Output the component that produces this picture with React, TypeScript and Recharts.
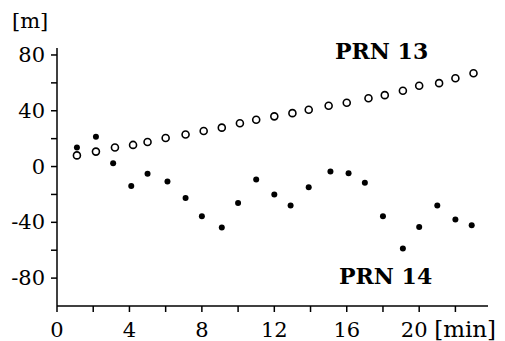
import React from "react";
import { ScatterChart, Scatter, XAxis, YAxis } from "recharts";

// ranges [m] of two satellites over time [min]
const prn13Minutes = [1.1, 2.15, 3.2, 4.2, 5.0, 6.0, 7.1, 8.1, 9.1, 10.1, 11.0, 12.0, 13.0, 13.9, 15.0, 16.0, 17.2, 18.1, 19.1, 20.0, 21.1, 22.0, 23.0];
const prn13Range = [8, 10.7, 13.6, 15.5, 17.6, 20.5, 23, 25.5, 27.9, 31, 33.6, 36, 38.3, 40.7, 43.6, 45.7, 49, 51.2, 54.3, 57.9, 59.8, 63.3, 66.9];
const prn14Minutes = [1.1, 2.15, 3.1, 4.1, 5.0, 6.1, 7.1, 8.0, 9.1, 10.0, 11.0, 12.0, 12.9, 13.9, 15.1, 16.1, 17.0, 18.0, 19.1, 20.0, 21.0, 22.0, 22.9];
const prn14Range = [13.6, 21.4, 2.4, -14, -5.2, -10.7, -22.6, -35.7, -43.8, -26.2, -9.3, -20, -27.9, -14.8, -3.6, -4.8, -11.7, -35.7, -58.8, -43.3, -27.9, -37.9, -42.1];

const xTicks = [0, 2, 4, 6, 8, 10, 12, 14, 16, 18, 20, 22];
const yTicks = [-80, -60, -40, -20, 0, 20, 40, 60, 80];

const FONT = "'DejaVu Serif', serif";

const prn13 = prn13Minutes.map((t, i) => ({ t, v: prn13Range[i] }));
const prn14 = prn14Minutes.map((t, i) => ({ t, v: prn14Range[i] }));

function XTick({ x, y, payload }: any) {
  const v = payload.value;
  if (v % 4 !== 0) return null;
  if (v === 20) {
    // last label carries the unit
    return (
      <text y={y + 23} fontFamily={FONT} fontSize={21} fill="#000">
        <tspan x={x - 5} textAnchor="middle">20</tspan>
        <tspan x={x + 15} fontSize={23}>[min]</tspan>
      </text>
    );
  }
  return (
    <text x={x} y={y + 23} textAnchor="middle" fontFamily={FONT} fontSize={21} fill="#000">
      {v}
    </text>
  );
}

function YTick({ x, y, payload }: any) {
  const v = payload.value;
  if (v % 40 !== 0) return null;
  return (
    <text x={x - 4} y={y + 7} textAnchor="end" fontFamily={FONT} fontSize={21} fill="#000">
      {v}
    </text>
  );
}

const openDot = (p: any) => (
  <circle cx={p.cx} cy={p.cy} r={3.5} fill="#fff" stroke="#000" strokeWidth={1.6} />
);
const fullDot = (p: any) => <circle cx={p.cx} cy={p.cy} r={3} fill="#000" />;

const labelStyle: React.CSSProperties = {
  position: "absolute", fontFamily: FONT, fontSize: 21, color: "#000", lineHeight: 1, whiteSpace: "nowrap",
};

export default function App() {
  return (
    <div style={{ position: "relative", width: 505, height: 341, background: "#fff" }}>
      <style>{"body{margin:0}"}</style>
      <ScatterChart width={505} height={341} margin={{ top: 48, right: 17, bottom: 5, left: 7 }}>
        <XAxis
          type="number" dataKey="t" domain={[0, 23.8]} ticks={xTicks} height={30}
          stroke="#000" strokeWidth={1.5} tickSize={6} tick={<XTick />} allowDataOverflow
        />
        <YAxis
          type="number" dataKey="v" domain={[-100, 85]} ticks={yTicks} width={50}
          stroke="#000" strokeWidth={1.5} tickSize={6} tick={<YTick />} allowDataOverflow
        />
        <Scatter data={prn13} shape={openDot} isAnimationActive={false} />
        <Scatter data={prn14} shape={fullDot} isAnimationActive={false} />
      </ScatterChart>
      <div style={{ ...labelStyle, left: 12, top: 11 }}>[m]</div>
      <div style={{ ...labelStyle, left: 335, top: 40, fontWeight: "bold", fontSize: 22 }}>PRN 13</div>
      <div style={{ ...labelStyle, left: 339, top: 265, fontWeight: "bold", fontSize: 22 }}>PRN 14</div>
    </div>
  );
}
